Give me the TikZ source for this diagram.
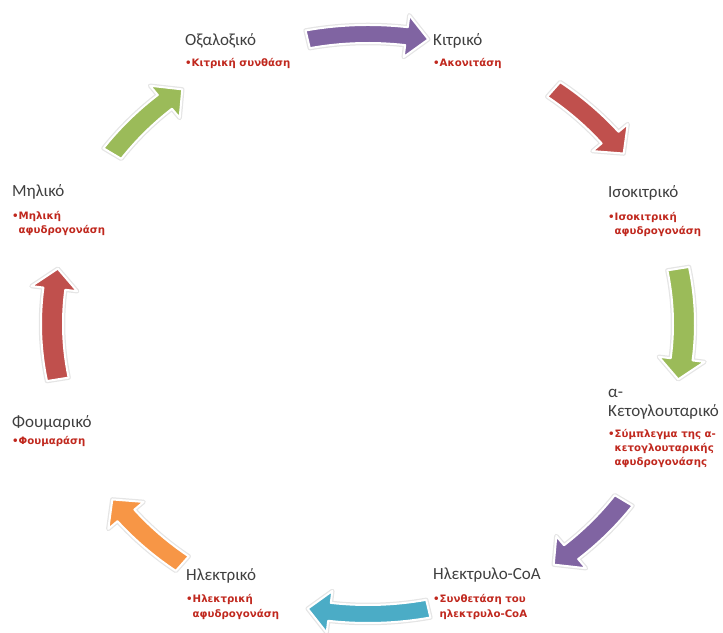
\documentclass[tikz,border=0pt]{standalone}
\usepackage{fontspec}
\setmainfont{Carlito}
\newfontfamily\bulletfont{DejaVu Sans}
\usetikzlibrary{calc,positioning}
\definecolor{TitleGray}{HTML}{3F3F3F}
\definecolor{BulletRed}{HTML}{C0281E}
\definecolor{ArPurple}{HTML}{8064A2}
\definecolor{ArRed}{HTML}{C0504D}
\definecolor{ArGreen}{HTML}{9BBB59}
\definecolor{ArCyan}{HTML}{4BACC6}
\definecolor{ArOrange}{HTML}{F79646}

\begin{document}
\begin{tikzpicture}[
  x=1pt, y=1pt,
  title/.style={
    anchor=base west,
    inner sep=0pt,
    align=left,
    text=TitleGray,
    font=\fontsize{17}{19}\selectfont
  },
  bullets/.style={
    anchor=base west,
    inner sep=0pt,
    align=left,
    text=BulletRed,
    font=\bulletfont\bfseries\fontsize{10.2}{14}\selectfont
  },
  cycarrow/.style={line width=#1, line join=round}
]
\useasboundingbox (0,0) rectangle (723,632);

% Βέλη του κύκλου
\begin{scope}[shift={(368,308)}]
  \foreach \a/\s/\dy/\col in {90/11/0/ArPurple, 45/9/0/ArRed, 0/11/0/ArGreen,
                              -45/9/-6/ArPurple, -90/11/0/ArCyan,
                              -135/9/-5/ArOrange, 180/11/0/ArRed,
                              135/9/0/ArGreen}{
    \foreach \edge/\lw in {black!10/4.5pt, white/2pt}{
      \path[cycarrow=\lw, fill=\col, draw=\edge, yshift=\dy]
        (\a+\s:327 and 299)
        arc[start angle=\a+\s, end angle=\a-\s+4, x radius=327, y radius=299]
        -- (\a-\s+4:339 and 311) -- (\a-\s:316 and 290)
        -- (\a-\s+4:293 and 269) -- (\a-\s+4:305 and 281)
        arc[start angle=\a-\s+4, end angle=\a+\s, x radius=305, y radius=281]
        -- cycle;
    }
  }
\end{scope}

% Οξαλοξικό
\node[title] (oxal) at (185,586) {Οξαλοξικό};
\node[bullets] (oxalb) at ([yshift=-21pt]oxal.base west) {•Κιτρική συνθάση};

% Κιτρικό
\node[title] (kitr) at (433,586) {Κιτρικό};
\node[bullets] (kitrb) at ([yshift=-21pt]kitr.base west) {•Ακονιτάση};

% Ισοκιτρικό
\node[title] (isok) at (608,434) {Ισοκιτρικό};
\node[bullets] (isokb) at ([yshift=-37pt]isok.base west)
  {•Ισοκιτρική\\\hphantom{•}αφυδρογονάση};

% α-Κετογλουταρικό
\node[title] (keto) at (608,215) {α-\\Κετογλουταρικό};
\node[bullets] (ketob) at ([yshift=-49pt]keto.base west)
  {•Σύμπλεγμα της α-\\\hphantom{•}κετογλουταρικής\\\hphantom{•}αφυδρογονάσης};

% Ηλεκτρυλο-CoA
\node[title] (hlcoa) at (433,52) {Ηλεκτρυλο-CoA};
\node[bullets] (hlcoab) at ([yshift=-37pt]hlcoa.base west)
  {•Συνθετάση του\\\hphantom{•}ηλεκτρυλο-CoA};

% Ηλεκτρικό
\node[title] (hlek) at (186,51) {Ηλεκτρικό};
\node[bullets] (hlekb) at ([yshift=-36pt]hlek.base west)
  {•Ηλεκτρική\\\hphantom{•}αφυδρογονάση};

% Φουμαρικό
\node[title] (foum) at (12,204) {Φουμαρικό};
\node[bullets] (foumb) at ([yshift=-17pt]foum.base west) {•Φουμαράση};

% Μηλικό
\node[title] (mhl) at (12,435) {Μηλικό};
\node[bullets] (mhlb) at ([yshift=-37pt]mhl.base west)
  {•Μηλική\\\hphantom{•}αφυδρογονάση};
\end{tikzpicture}
\end{document}
